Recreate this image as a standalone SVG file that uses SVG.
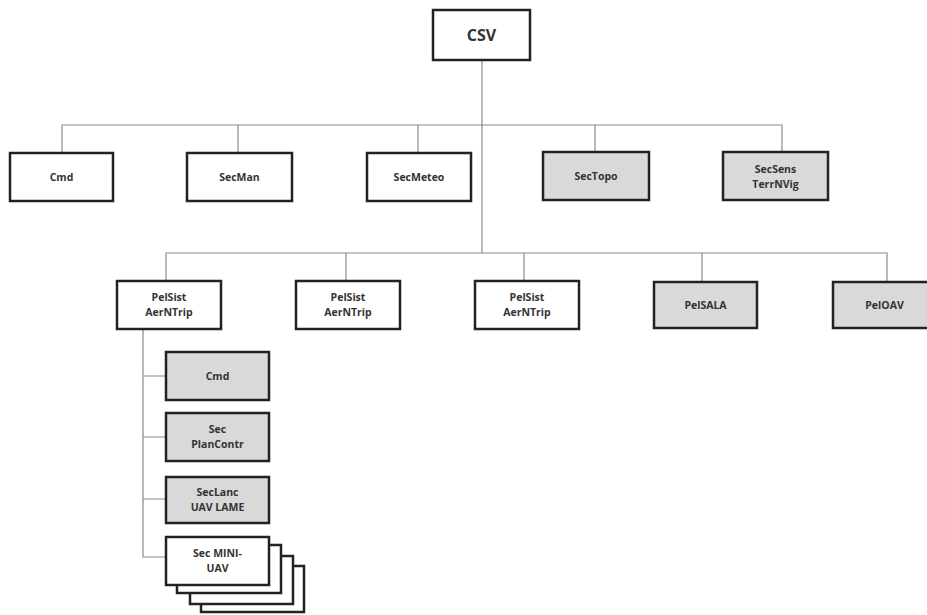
<svg xmlns="http://www.w3.org/2000/svg" width="927" height="615" viewBox="0 0 927 615">
<style>
.b{fill:#fff;stroke:#222;stroke-width:2.5}
.g{fill:#d9d9d9;stroke:#222;stroke-width:2.5}
.t{font-family:"Open Sans","Liberation Sans",sans-serif;font-weight:bold;font-size:10.5px;fill:#333;text-anchor:middle}
.big{font-size:16px}
#connectors path{fill:none;stroke:#8a8a8a;stroke-width:1.2}
</style>
<rect width="927" height="615" fill="#fff"/>
<g id="connectors">
<path d="M482 60V253"/>
<path d="M62 153V125H782V152"/>
<path d="M238 125V153M418 125V153M595 125V152"/>
<path d="M166 281V253H887V282"/>
<path d="M346 253V281M524 253V281M702 253V282"/>
<path d="M143 329V557H166M143 376H166M143 437H166M143 499H166"/>
</g>
<g id="csv"><rect class="b" x="433" y="10" width="97" height="50"/><text class="t big" x="481.5" y="41">CSV</text></g>
<g id="cmd"><rect class="b" x="10" y="153" width="103" height="48"/><text class="t" x="61.5" y="181">Cmd</text></g>
<g id="secman"><rect class="b" x="187" y="153" width="105" height="48"/><text class="t" x="239.5" y="181">SecMan</text></g>
<g id="secmeteo"><rect class="b" x="367" y="153" width="104" height="48"/><text class="t" x="419" y="181">SecMeteo</text></g>
<g id="sectopo"><rect class="g" x="543" y="152" width="106" height="48"/><text class="t" x="596" y="180">SecTopo</text></g>
<g id="secsens"><rect class="g" x="723" y="152" width="105" height="48"/><text class="t" x="775.5" y="173">SecSens</text><text class="t" x="775.5" y="188">TerrNVig</text></g>
<g id="pelsist1"><rect class="b" x="117" y="281" width="104" height="48"/><text class="t" x="169" y="301">PelSist</text><text class="t" x="169" y="316">AerNTrip</text></g>
<g id="pelsist2"><rect class="b" x="296" y="281" width="104" height="48"/><text class="t" x="348" y="301">PelSist</text><text class="t" x="348" y="316">AerNTrip</text></g>
<g id="pelsist3"><rect class="b" x="475" y="281" width="104" height="48"/><text class="t" x="527" y="301">PelSist</text><text class="t" x="527" y="316">AerNTrip</text></g>
<g id="pelsala"><rect class="g" x="654" y="282" width="103" height="46"/><text class="t" x="705.5" y="309">PelSALA</text></g>
<g id="peloav"><rect class="g" x="833" y="282" width="103" height="46"/><text class="t" x="884.5" y="309">PelOAV</text></g>
<g id="subcmd"><rect class="g" x="166" y="352" width="103" height="48"/><text class="t" x="217.5" y="380">Cmd</text></g>
<g id="secplancontr"><rect class="g" x="166" y="413" width="103" height="48"/><text class="t" x="217.5" y="433">Sec</text><text class="t" x="217.5" y="448">PlanContr</text></g>
<g id="seclanc"><rect class="g" x="166" y="477" width="103" height="46"/><text class="t" x="217.5" y="496">SecLanc</text><text class="t" x="217.5" y="511">UAV LAME</text></g>
<g id="secminiuav">
<rect class="b" x="201" y="566" width="103" height="46"/>
<rect class="b" x="190" y="556" width="103" height="48"/>
<rect class="b" x="177" y="545" width="104" height="48"/>
<rect class="b" x="166" y="537" width="103" height="48"/>
<text class="t" x="217.5" y="557">Sec MINI-</text><text class="t" x="217.5" y="572">UAV</text>
</g>
</svg>
